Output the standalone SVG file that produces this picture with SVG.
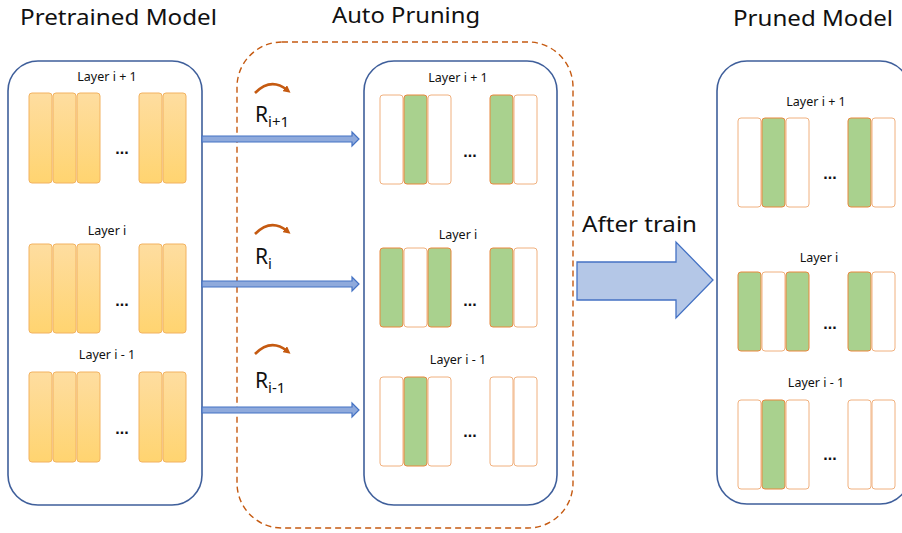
<svg xmlns="http://www.w3.org/2000/svg" width="902" height="533" viewBox="0 0 902 533">
<defs>
<linearGradient id="og" x1="0" y1="0" x2="0" y2="1">
<stop offset="0" stop-color="#FEDDA0"/>
<stop offset="1" stop-color="#FFD470"/>
</linearGradient>
<marker id="rot" viewBox="0 0 10 10" refX="4" refY="5" markerWidth="3" markerHeight="3" orient="auto">
<path d="M0,0 L10,5 L0,10 z" fill="#C55A11"/>
</marker>
</defs>
<style>
.title{font-family:"Noto Sans","Liberation Sans",sans-serif;font-size:21px;fill:#111}
.lbl{font-family:"Noto Sans","Liberation Sans",sans-serif;font-size:12.5px;fill:#111;text-anchor:middle}
.dots{font-family:"Liberation Sans",sans-serif;font-size:16px;font-weight:bold;fill:#111;text-anchor:middle}
.rl{font-family:"Noto Sans","Liberation Sans",sans-serif;font-size:21px;fill:#111}
.box{fill:#fff;stroke:#3F5F9B;stroke-width:1.6}
.ob{fill:url(#og);stroke:#F2B260;stroke-width:1}
.gb{fill:#A9D18E;stroke:#E9873D;stroke-width:1}
.wb{fill:#fff;stroke:#F0B07E;stroke-width:1}
.arr{fill:#8FAADC;stroke:#4472C4;stroke-width:1.2}
.rot{fill:none;stroke:#C55A11;stroke-width:2.5}
</style>

<text class="title" x="20" y="25" textLength="197" lengthAdjust="spacingAndGlyphs">Pretrained Model</text>
<text class="title" x="332" y="23" textLength="148" lengthAdjust="spacingAndGlyphs">Auto Pruning</text>
<text class="title" x="733" y="26" textLength="160" lengthAdjust="spacingAndGlyphs">Pruned Model</text>

<g id="auto-pruning-frame">
<rect x="237" y="42" width="336" height="486" rx="45" fill="none" stroke="#C55A11" stroke-width="1.4" stroke-dasharray="6,4"/>
</g>

<g id="pretrained">
<rect class="box" x="8" y="61" width="194" height="444" rx="30"/>
<text class="lbl" x="107" y="81">Layer i + 1</text>
<rect class="ob" x="29" y="93" width="23" height="90" rx="3"/>
<rect class="ob" x="53" y="93" width="23" height="90" rx="3"/>
<rect class="ob" x="77" y="93" width="23" height="90" rx="3"/>
<rect class="ob" x="139" y="93" width="23" height="90" rx="3"/>
<rect class="ob" x="163" y="93" width="23" height="90" rx="3"/>
<text class="dots" x="122" y="154">...</text>
<text class="lbl" x="107" y="235">Layer i</text>
<rect class="ob" x="29" y="244" width="23" height="89" rx="3"/>
<rect class="ob" x="53" y="244" width="23" height="89" rx="3"/>
<rect class="ob" x="77" y="244" width="23" height="89" rx="3"/>
<rect class="ob" x="139" y="244" width="23" height="89" rx="3"/>
<rect class="ob" x="163" y="244" width="23" height="89" rx="3"/>
<text class="dots" x="122" y="306">...</text>
<text class="lbl" x="107" y="359">Layer i - 1</text>
<rect class="ob" x="29" y="372" width="23" height="90" rx="3"/>
<rect class="ob" x="53" y="372" width="23" height="90" rx="3"/>
<rect class="ob" x="77" y="372" width="23" height="90" rx="3"/>
<rect class="ob" x="139" y="372" width="23" height="90" rx="3"/>
<rect class="ob" x="163" y="372" width="23" height="90" rx="3"/>
<text class="dots" x="122" y="434">...</text>
</g>

<g id="pruning">
<rect class="box" x="364" y="61" width="193" height="444" rx="30"/>
<text class="lbl" x="458" y="82">Layer i + 1</text>
<rect class="wb" x="380" y="95" width="23" height="89" rx="3"/>
<rect class="gb" x="404" y="95" width="23" height="89" rx="3"/>
<rect class="wb" x="428" y="95" width="23" height="89" rx="3"/>
<rect class="gb" x="490" y="95" width="23" height="89" rx="3"/>
<rect class="wb" x="514" y="95" width="23" height="89" rx="3"/>
<text class="dots" x="470" y="157">...</text>
<text class="lbl" x="458" y="239">Layer i</text>
<rect class="gb" x="380" y="248" width="23" height="79" rx="3"/>
<rect class="wb" x="404" y="248" width="23" height="79" rx="3"/>
<rect class="gb" x="428" y="248" width="23" height="79" rx="3"/>
<rect class="gb" x="490" y="248" width="23" height="79" rx="3"/>
<rect class="wb" x="514" y="248" width="23" height="79" rx="3"/>
<text class="dots" x="470" y="306">...</text>
<text class="lbl" x="458" y="364">Layer i - 1</text>
<rect class="wb" x="380" y="377" width="23" height="89" rx="3"/>
<rect class="gb" x="404" y="377" width="23" height="89" rx="3"/>
<rect class="wb" x="428" y="377" width="23" height="89" rx="3"/>
<rect class="wb" x="490" y="377" width="23" height="89" rx="3"/>
<rect class="wb" x="514" y="377" width="23" height="89" rx="3"/>
<text class="dots" x="470" y="437">...</text>
</g>

<g id="pruned">
<rect class="box" x="717" y="61" width="193" height="443" rx="30"/>
<text class="lbl" x="816" y="106">Layer i + 1</text>
<rect class="wb" x="738" y="118" width="23" height="89" rx="3"/>
<rect class="gb" x="762" y="118" width="23" height="89" rx="3"/>
<rect class="wb" x="786" y="118" width="23" height="89" rx="3"/>
<rect class="gb" x="848" y="118" width="23" height="89" rx="3"/>
<rect class="wb" x="872" y="118" width="23" height="89" rx="3"/>
<text class="dots" x="830" y="179">...</text>
<text class="lbl" x="819" y="262">Layer i</text>
<rect class="gb" x="738" y="272" width="23" height="79" rx="3"/>
<rect class="wb" x="762" y="272" width="23" height="79" rx="3"/>
<rect class="gb" x="786" y="272" width="23" height="79" rx="3"/>
<rect class="gb" x="848" y="272" width="23" height="79" rx="3"/>
<rect class="wb" x="872" y="272" width="23" height="79" rx="3"/>
<text class="dots" x="830" y="329">...</text>
<text class="lbl" x="816" y="387">Layer i - 1</text>
<rect class="wb" x="738" y="400" width="23" height="89" rx="3"/>
<rect class="gb" x="762" y="400" width="23" height="89" rx="3"/>
<rect class="wb" x="786" y="400" width="23" height="89" rx="3"/>
<rect class="wb" x="848" y="400" width="23" height="89" rx="3"/>
<rect class="wb" x="872" y="400" width="23" height="89" rx="3"/>
<text class="dots" x="830" y="460">...</text>
</g>

<g id="ratios">
<path class="rot" d="M255,93 Q271,77 287,90" marker-end="url(#rot)"/>
<text class="rl" x="255" y="122">R<tspan font-size="15" dy="5">i+1</tspan></text>
<path class="rot" d="M255,234 Q271,218 287,231" marker-end="url(#rot)"/>
<text class="rl" x="255" y="264">R<tspan font-size="15" dy="5">i</tspan></text>
<path class="rot" d="M255,354 Q271,338 287,351" marker-end="url(#rot)"/>
<text class="rl" x="255" y="388">R<tspan font-size="15" dy="5">i-1</tspan></text>
</g>

<g id="connectors">
<path class="arr" d="M202,136 L352,136 L352,132 L359,139 L352,146 L352,142 L202,142 z"/>
<path class="arr" d="M202,281 L352,281 L352,277 L359,284 L352,291 L352,287 L202,287 z"/>
<path class="arr" d="M202,407 L352,407 L352,403 L359,410 L352,417 L352,413 L202,413 z"/>
<path d="M577,262 L676,262 L676,242 L713,280 L676,318 L676,300 L577,300 z" fill="#B4C7E7" stroke="#4472C4" stroke-width="1.3"/>
<text class="title" x="582" y="232" textLength="115" lengthAdjust="spacingAndGlyphs">After train</text>
</g>
</svg>
